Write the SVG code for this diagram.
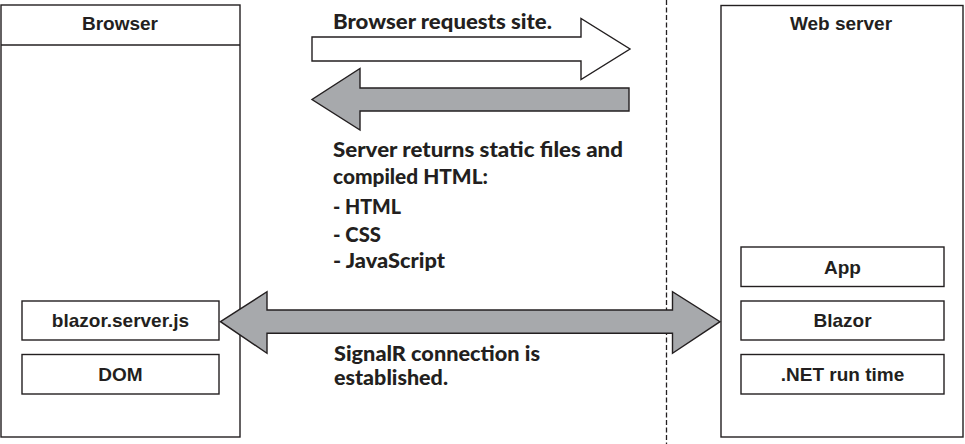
<svg xmlns="http://www.w3.org/2000/svg" width="965" height="444" viewBox="0 0 965 444">
<style>
.box{fill:#fff;stroke:#231f20;stroke-width:1.4}
.hdr{font-family:"Liberation Sans",Arial,sans-serif;font-weight:bold;font-size:19px;fill:#231f20;text-anchor:middle}
.lbl{font-family:Lato,"Open Sans",sans-serif;font-weight:900;font-size:21.5px;fill:#231f20}
.arrow{stroke:#231f20;stroke-width:1.4;stroke-linejoin:miter}
.gray{fill:#a7a9ac}
.white{fill:#fff}
</style>
<rect width="965" height="444" fill="#fff"/>
<g id="divider">
<line x1="666.5" y1="0" x2="666.5" y2="444" stroke="#231f20" stroke-width="1.3" stroke-dasharray="5,2.5"/>
</g>
<g id="browser">
<rect class="box" x="1" y="5" width="239" height="432"/>
<line x1="1" y1="45" x2="240" y2="45" stroke="#231f20" stroke-width="1.4"/>
<text class="hdr" x="120" y="30">Browser</text>
</g>
<g id="blazor-server-js">
<rect class="box" x="22" y="301" width="197" height="39"/>
<text class="hdr" x="120.5" y="326.5">blazor.server.js</text>
</g>
<g id="dom">
<rect class="box" x="22" y="354.5" width="197" height="39.5"/>
<text class="hdr" x="120.5" y="380.5">DOM</text>
</g>
<g id="webserver">
<rect class="box" x="721" y="5.5" width="242" height="431.5"/>
<text class="hdr" x="841" y="30">Web server</text>
</g>
<g id="app">
<rect class="box" x="741" y="247" width="203" height="39.5"/>
<text class="hdr" x="842.5" y="273.5">App</text>
</g>
<g id="blazor">
<rect class="box" x="741" y="301" width="203" height="39"/>
<text class="hdr" x="842.5" y="326.5">Blazor</text>
</g>
<g id="dotnet">
<rect class="box" x="741" y="354.5" width="203" height="39.5"/>
<text class="hdr" x="842.5" y="380.5">.NET run time</text>
</g>
<g id="connectors">
<polygon class="arrow white" points="312,37 581,37 581,18.5 630,49 581,79.5 581,61 312,61"/>
<polygon class="arrow gray" points="629,88 360,88 360,68.5 312,99.5 360,130 360,111 629,111"/>
<polygon class="arrow gray" points="220.5,321.7 267,291.7 267,310 672.5,310 672.5,291.7 720,321.7 672.5,353.3 672.5,333.3 267,333.3 267,353.3"/>
</g>
<g id="labels">
<text class="lbl" x="333" y="28.5" textLength="219" lengthAdjust="spacingAndGlyphs">Browser requests site.</text>
<text class="lbl" x="333" y="156.7" textLength="290" lengthAdjust="spacingAndGlyphs">Server returns static files and</text>
<text class="lbl" x="333" y="184" textLength="155" lengthAdjust="spacingAndGlyphs">compiled HTML:</text>
<text class="lbl" x="333" y="214.3" textLength="68" lengthAdjust="spacingAndGlyphs">- HTML</text>
<text class="lbl" x="333" y="241.7" textLength="48" lengthAdjust="spacingAndGlyphs">- CSS</text>
<text class="lbl" x="333" y="267.5" textLength="112" lengthAdjust="spacingAndGlyphs">- JavaScript</text>
<text class="lbl" x="334" y="360.7" textLength="206" lengthAdjust="spacingAndGlyphs">SignalR connection is</text>
<text class="lbl" x="334" y="385" textLength="114" lengthAdjust="spacingAndGlyphs">established.</text>
</g>
</svg>
